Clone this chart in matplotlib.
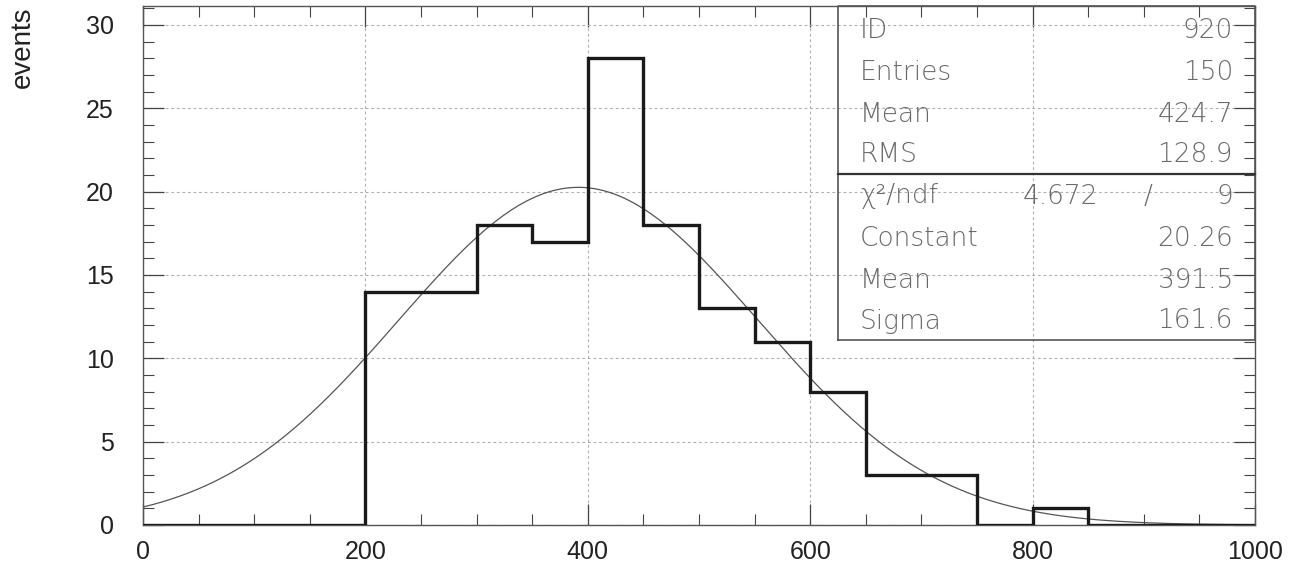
import numpy as np
import matplotlib
matplotlib.use("Agg")
import matplotlib.pyplot as plt
from matplotlib.ticker import MultipleLocator

# histogram contents, 50-wide bins from 0 to 1000
bin_edges = np.arange(0, 1001, 50)
counts = [0, 0, 0, 0, 14, 14, 18, 17, 28, 18, 13, 11, 8, 3, 3, 0, 1, 0, 0, 0]

# gaussian fit parameters
fit_constant = 20.26
fit_mean = 391.5
fit_sigma = 161.6

# stats box rows
stat_labels = ["ID", "Entries", "Mean", "RMS"]
stat_values = ["920", "150", "424.7", "128.9"]
fit_labels = ["Constant", "Mean", "Sigma"]
fit_values = ["20.26", "391.5", "161.6"]
chi2_text = ("4.672", "/", "9")

plt.rcParams["font.family"] = ["Liberation Sans", "DejaVu Sans"]

fig = plt.figure(figsize=(12.96, 5.68), dpi=100)
ax = fig.add_axes([143 / 1296, 43 / 568, 1112 / 1296, 519 / 568])

xs = np.linspace(0, 1000, 500)
gauss = fit_constant * np.exp(-0.5 * ((xs - fit_mean) / fit_sigma) ** 2)
ax.plot(xs, gauss, color="#555555", lw=0.9, zorder=3)
ax.stairs(counts, bin_edges, color="#1a1a1a", lw=2.4, baseline=0, zorder=4)

ax.set_xlim(0, 1000)
ax.set_ylim(0, 31.14)
ax.xaxis.set_major_locator(MultipleLocator(200))
ax.xaxis.set_minor_locator(MultipleLocator(50))
ax.yaxis.set_major_locator(MultipleLocator(5))
ax.yaxis.set_minor_locator(MultipleLocator(1))
ax.tick_params(which="both", direction="in", top=True, right=True,
               color="#444444", labelsize=18, labelcolor="#222222")
ax.tick_params(which="major", length=15, width=0.9)
ax.tick_params(which="minor", length=8, width=0.8)
ax.tick_params(axis="x", which="major", pad=11)
ax.tick_params(axis="y", which="major", pad=21)
ax.grid(True, which="major", color="#b0b0b0", lw=0.8, ls=(0, (2.5, 2.5)))
for sp in ax.spines.values():
    sp.set_color("#555555")
    sp.set_linewidth(1.0)

fig.text(23 / 1296, 1 - 6 / 568, "events", rotation=90, ha="center", va="top",
         fontsize=20, color="#222222")

# stats box (axes coords)
bx0, by0, bdiv = 0.625, 0.356, 0.676
ax.plot([bx0, 1, 1, bx0, bx0], [by0, by0, 1, 1, by0], transform=ax.transAxes,
        color="#555555", lw=1.2, clip_on=False, zorder=5)
ax.plot([bx0, 1], [bdiv, bdiv], transform=ax.transAxes, color="#333333", lw=1.6,
        clip_on=False, zorder=5)

def ay(ypix):
    return (525 - ypix) / 519

tx_l = (860 - 143) / 1112
tx_r = (1233 - 143) / 1112
txt_kw = dict(transform=ax.transAxes, fontsize=19, color="#6a6a6a", va="center",
              family=["DejaVu Sans"], fontweight="light")
for lab, val, yp in zip(stat_labels, stat_values, [31, 73, 114, 155]):
    ax.text(tx_l, ay(yp), lab, ha="left", **txt_kw)
    ax.text(tx_r, ay(yp), val, ha="right", **txt_kw)
ax.text(tx_l, ay(196), "χ²/ndf", ha="left", **txt_kw)
ax.text((1060 - 143) / 1112, ay(196), chi2_text[0], ha="center", **txt_kw)
ax.text((1148 - 143) / 1112, ay(196), chi2_text[1], ha="center", **txt_kw)
ax.text(tx_r, ay(196), chi2_text[2], ha="right", **txt_kw)
for lab, val, yp in zip(fit_labels, fit_values, [239, 280, 321]):
    ax.text(tx_l, ay(yp), lab, ha="left", **txt_kw)
    ax.text(tx_r, ay(yp), val, ha="right", **txt_kw)

fig.savefig("out.png", dpi=100)
